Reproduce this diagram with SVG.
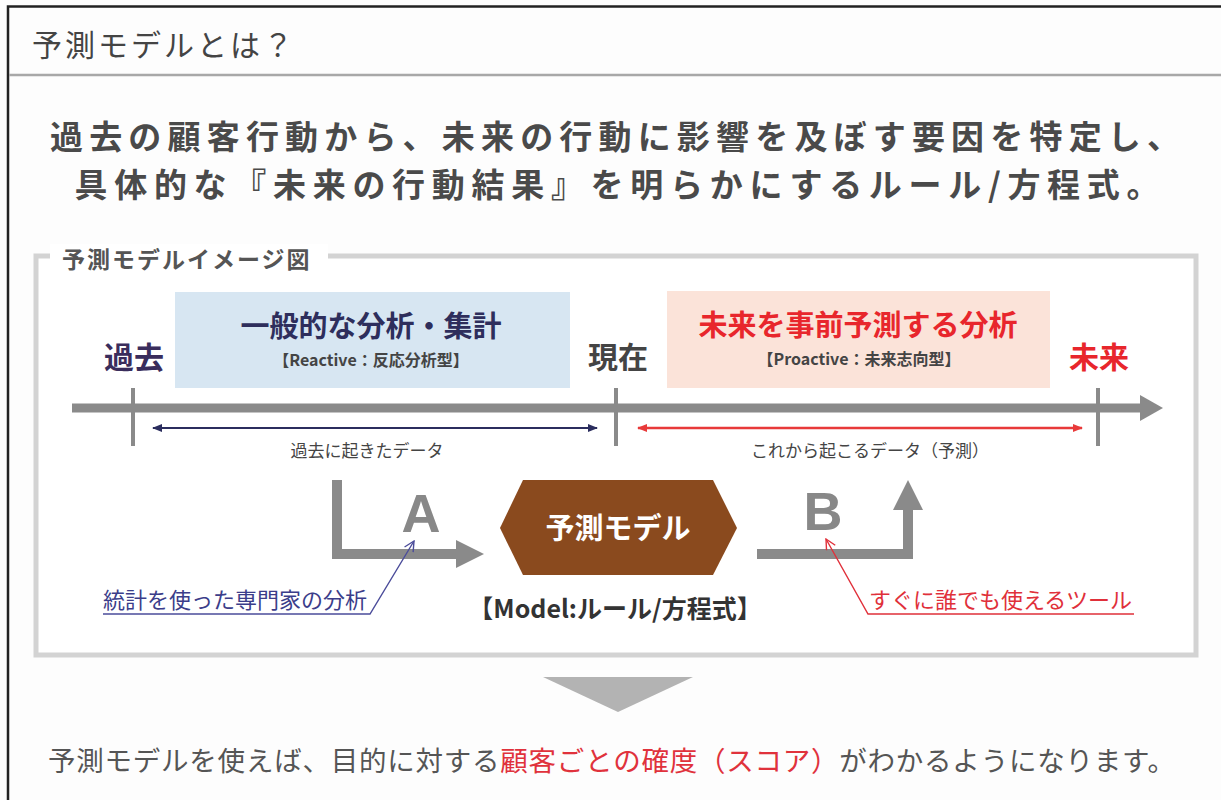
<svg xmlns="http://www.w3.org/2000/svg" width="1221" height="800" viewBox="0 0 1221 800">
<defs>
<style>
text{font-family:"Noto Sans CJK JP","Noto Sans",sans-serif;}
.b{font-weight:bold;}
.dk{fill:#4a4a4a;}
.red{fill:#e8262c;}
.lat{font-family:"Liberation Sans",sans-serif;}
</style>
<marker id="navyHead" markerWidth="10" markerHeight="8" refX="9" refY="4" orient="auto-start-reverse" markerUnits="userSpaceOnUse">
<path d="M0,0 L10,4 L0,8 Z" fill="#2b2d5e"/>
</marker>
<marker id="redHead" markerWidth="10" markerHeight="8" refX="9" refY="4" orient="auto-start-reverse" markerUnits="userSpaceOnUse">
<path d="M0,0 L10,4 L0,8 Z" fill="#e83a3a"/>
</marker>
<marker id="openBlue" markerWidth="12" markerHeight="12" refX="11" refY="6" orient="auto" markerUnits="userSpaceOnUse">
<path d="M1,1 L11,6 L1,11" fill="none" stroke="#4b4c9a" stroke-width="1.4"/>
</marker>
<marker id="openRed" markerWidth="12" markerHeight="12" refX="11" refY="6" orient="auto" markerUnits="userSpaceOnUse">
<path d="M1,1 L11,6 L1,11" fill="none" stroke="#e0303a" stroke-width="1.4"/>
</marker>
</defs>
<rect x="0" y="0" width="1221" height="800" fill="#fdfdfd"/>
<!-- outer frame -->
<path d="M8,800 L8,6.5 L1221,6.5" fill="none" stroke="#222" stroke-width="2.5"/>
<line x1="9" y1="75" x2="1221" y2="75" stroke="#a8a8a8" stroke-width="2.5"/>
<text x="32" y="56" font-size="30" letter-spacing="3" fill="#444">予測モデルとは？</text>

<!-- headline -->
<text x="615" y="149" font-size="33" class="b dk" text-anchor="middle" textLength="1130" lengthAdjust="spacing">過去の顧客行動から、未来の行動に影響を及ぼす要因を特定し、</text>
<text x="617" y="197" font-size="33" class="b dk" text-anchor="middle" textLength="1085" lengthAdjust="spacing">具体的な『未来の行動結果』を明らかにするルール/方程式。</text>

<!-- panel -->
<g id="panel">
<rect x="36" y="256" width="1160" height="399" fill="#ffffff" stroke="#d3d3d3" stroke-width="5"/>
<rect x="50" y="244" width="278" height="24" fill="#ffffff"/>
<text x="62" y="268" font-size="23" class="b" fill="#555" letter-spacing="2">予測モデルイメージ図</text>
</g>

<!-- boxes -->
<g id="reactive">
<rect x="175" y="292" width="395" height="96" fill="#d7e6f2"/>
<text x="371" y="337" font-size="29" class="b" fill="#2e2e5c" text-anchor="middle">一般的な分析・集計</text>
<text x="371" y="366" font-size="16" class="b" fill="#444" text-anchor="middle">【Reactive：反応分析型】</text>
</g>
<g id="proactive">
<rect x="667" y="291" width="383" height="97" fill="#fbe3d9"/>
<text x="858" y="336" font-size="29" class="b red" text-anchor="middle">未来を事前予測する分析</text>
<text x="859" y="365" font-size="16" class="b" fill="#444" text-anchor="middle">【Proactive：未来志向型】</text>
</g>

<g id="labels">
<text x="134" y="368" font-size="30" class="b" fill="#3a2d5c" text-anchor="middle">過去</text>
<text x="618" y="368" font-size="30" class="b" fill="#444" text-anchor="middle">現在</text>
<text x="1099" y="368" font-size="30" class="b red" text-anchor="middle">未来</text>
</g>

<!-- timeline -->
<g id="timeline">
<line x1="72" y1="408" x2="1142" y2="408" stroke="#8a8a8a" stroke-width="9"/>
<path d="M1140,395 L1163,408 L1140,421 Z" fill="#8a8a8a"/>
<line x1="133" y1="388" x2="133" y2="446" stroke="#8a8a8a" stroke-width="4"/>
<line x1="616" y1="388" x2="616" y2="446" stroke="#8a8a8a" stroke-width="4"/>
<line x1="1098" y1="388" x2="1098" y2="446" stroke="#8a8a8a" stroke-width="4"/>
</g>

<g id="connectors">
<line x1="153" y1="428" x2="597" y2="428" stroke="#2b2d5e" stroke-width="2" marker-start="url(#navyHead)" marker-end="url(#navyHead)"/>
<line x1="638" y1="428" x2="1082" y2="428" stroke="#e83a3a" stroke-width="2.5" marker-start="url(#redHead)" marker-end="url(#redHead)"/>
<path d="M337,480 L337,554 L458,554" fill="none" stroke="#8a8a8a" stroke-width="10"/>
<path d="M456,540 L484,554 L456,568 Z" fill="#8a8a8a"/>
<path d="M757,554 L908,554 L908,508" fill="none" stroke="#8a8a8a" stroke-width="10"/>
<path d="M893,510 L908,480 L923,510 Z" fill="#8a8a8a"/>
<path d="M103,614 L370,614 L414,541" fill="none" stroke="#4b4c9a" stroke-width="1.4" marker-end="url(#openBlue)"/>
<path d="M1134,614 L868,614 L826,539" fill="none" stroke="#e0303a" stroke-width="1.4" marker-end="url(#openRed)"/>
</g>

<text x="367" y="457" font-size="17" fill="#444" text-anchor="middle">過去に起きたデータ</text>
<text x="870" y="457" font-size="17" fill="#444" text-anchor="middle">これから起こるデータ（予測）</text>

<text x="421" y="532" font-size="54" class="b lat" fill="#888" text-anchor="middle">A</text>
<text x="823" y="530" font-size="54" class="b lat" fill="#888" text-anchor="middle">B</text>

<g id="model">
<path d="M500,528 L523,480 L713,480 L737,528 L713,575 L523,575 Z" fill="#8a4a1e"/>
<text x="618" y="539" font-size="29" class="b" fill="#ffffff" text-anchor="middle">予測モデル</text>
<text x="615" y="618" font-size="25" class="b" fill="#333" text-anchor="middle">【Model:ルール/方程式】</text>
</g>

<text x="103" y="608" font-size="22" fill="#3b3d8a">統計を使った専門家の分析</text>
<text x="869" y="608" font-size="22" fill="#e0303a">すぐに誰でも使えるツール</text>

<!-- bottom -->
<path d="M543,677 L693,677 L618,712 Z" fill="#b3b3b3"/>
<text x="48" y="771" font-size="27.5" fill="#555" textLength="1127" lengthAdjust="spacing">予測モデルを使えば、目的に対する<tspan fill="#e0323c">顧客ごとの確度（スコア）</tspan>がわかるようになります。</text>
</svg>
